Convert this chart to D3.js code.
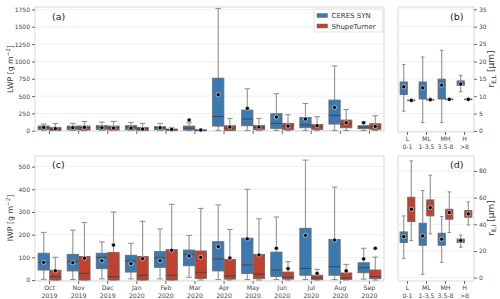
<!DOCTYPE html>
<html><head><meta charset="utf-8">
<script src="https://cdn.jsdelivr.net/npm/d3@7"></script>
<style>body{margin:0;background:#fff}svg{display:block;font-family:"DejaVu Sans",sans-serif}</style>
</head><body><svg id="c" width="500" height="299"></svg>
<script>
// ---------- data ----------
const monthNames = ["Oct","Nov","Dec","Jan","Feb","Mar","Apr","May","Jun","Jul","Aug","Sep"];
const monthYears = ["2019","2019","2019","2020","2020","2020","2020","2020","2020","2020","2020","2020"];
const heightCats = ["L","ML","MH","H"];
const heightRanges = ["0-1","1-3.5","3.5-8",">8"];
const seriesNames = ["CERES SYN","ShupeTurner"];
// each entry: [whiskerLow, q1, median, q3, whiskerHigh, mean]
const lwpCeres = [[5,19,43,67,96,48],[3,14,43,67,106,43],[3,19,53,72,125,43],[3,14,53,72,120,38],[3,14,43,58,106,43],[2,10,38,67,115,154],
  [5,67,206,758,1766,518],[5,72,168,298,605,322],[5,34,106,245,533,197],[5,43,82,192,394,168],[5,96,221,442,936,336],[3,29,53,72,125,115]];
const lwpShupe = [[2,5,24,48,106,29],[2,10,43,67,134,48],[2,10,43,67,134,38],[1,5,29,48,106,24],[1,5,14,24,48,19],[0,1,5,12,20,10],
  [2,5,38,72,178,53],[2,14,48,77,178,53],[2,14,67,106,230,67],[2,19,58,91,202,72],[3,43,96,154,307,115],[2,19,58,101,216,62]];
const iwpCeres = [[3,44,78,118,210,78],[2,40,82,113,220,76],[5,50,100,118,168,85],[5,35,84,109,162,72],[5,56,98,125,225,85],[12,63,113,132,196,106],
  [2,40,93,169,331,147],[2,29,66,184,400,181],[2,16,44,123,278,140],[2,21,51,228,529,197],[2,21,59,179,410,176],[4,32,54,76,140,93]];
const iwpShupe = [[0,0,15,43,100,40],[0,0,29,104,254,96],[0,0,15,121,300,154],[0,0,21,104,259,94],[0,0,21,134,334,131],[0,7,34,128,316,100],
  [0,4,18,91,223,97],[0,6,26,113,270,110],[0,4,12,35,81,50],[0,1.5,9,21,47,29],[0,3,9,31,69,40],[0,6,15,44,101,140]];
const reLCeres = [[5.7,10.5,12.7,14.1,19.1,12.7],[2.4,9.2,12.4,14.1,21.3,12.4],[2.4,9.2,13.2,14.9,23.2,13.2],[11.3,13.1,13.8,14.4,16.0,13.5]];
const reLShupe = [[8.6,8.7,8.8,8.9,9.0,8.8],[8.8,8.9,9.0,9.1,9.2,9.0],[8.9,9.0,9.1,9.2,9.3,9.1],[8.9,9.0,9.1,9.2,9.3,9.1]];
const reICeres = [[14.5,26.3,30.8,34.3,46.3,30.8],[2.5,24.3,30.3,40.8,65.3,31.3],[11.5,24.3,28.8,33.3,45.8,28.8],[22.8,26.3,27.8,29.0,32.0,27.8]];
const reIShupe = [[27.8,42.0,51.3,60.3,87.5,51.3],[32.8,46.3,52.0,58.3,76.8,52.5],[33.8,43.8,48.8,51.3,64.3,48.8],[39.5,45.3,47.8,50.3,56.8,47.8]];
const lwpTicks = [0,250,500,750,1000,1250,1500,1750];
const iwpTicks = [0,100,200,300,400,500];
const reLTicks = [0,5,10,15,20,25,30,35];
const reITicks = [0,20,40,60,80];

// ---------- style ----------
const colors = ["#3a7ab3","#c1402f"];
const svg = d3.select("#c");
const tickColor = "#444", gridColor = "#ececec", spineColor = "#d0d0d0";

function panel(o){
  const g = svg.append("g");
  const x = d3.scaleBand().domain(o.cats).range([o.x0,o.x1]);
  const y = d3.scaleLinear().domain(o.ydom).range([o.y1,o.y0]);
  g.selectAll(".grid").data(o.yticks).join("line")
    .attr("x1",o.x0).attr("x2",o.x1).attr("y1",d=>y(d)).attr("y2",d=>y(d))
    .attr("stroke",gridColor).attr("stroke-width",0.8);
  g.append("rect").attr("x",o.x0).attr("y",o.y0).attr("width",o.x1-o.x0).attr("height",o.y1-o.y0)
    .attr("fill","none").attr("stroke",spineColor).attr("stroke-width",0.8);
  const ax = (o.right ? d3.axisRight(y) : d3.axisLeft(y)).tickValues(o.yticks).tickFormat(d3.format("d")).tickSize(3).tickPadding(2);
  const ya = g.append("g").attr("transform",`translate(${o.right?o.x1:o.x0},0)`).call(ax);
  ya.select(".domain").remove();
  ya.selectAll("line").attr("stroke",tickColor).attr("stroke-width",0.8);
  ya.selectAll("text").attr("font-size",6).attr("fill",tickColor).attr("font-family","DejaVu Sans");
  g.selectAll(".xt").data(o.cats).join("line")
    .attr("x1",d=>x(d)+x.bandwidth()/2).attr("x2",d=>x(d)+x.bandwidth()/2)
    .attr("y1",o.y1).attr("y2",o.y1+3).attr("stroke",tickColor).attr("stroke-width",0.8);
  if(o.xlab1){
    const t = g.selectAll(".xl").data(o.cats).join("text")
      .attr("x",d=>x(d)+x.bandwidth()/2).attr("y",o.y1+9).attr("text-anchor","middle")
      .attr("font-size",6.2).attr("fill",tickColor);
    t.append("tspan").text((d,i)=>o.xlab1[i]);
    t.append("tspan").attr("x",d=>x(d)+x.bandwidth()/2).attr("dy",8).text((d,i)=>o.xlab2[i]);
  }
  const bw = x.bandwidth();
  const w = bw*0.4 - 0.4;
  o.series.forEach((ser,si)=>{
    const off = (si===0?-0.2:0.2)*bw;
    ser.forEach((s,i)=>{
      const cx = x(o.cats[i]) + bw/2 + off;
      const [wl,q1,md,q3,wh,mn] = s;
      const gg = g.append("g");
      gg.append("line").attr("x1",cx).attr("x2",cx).attr("y1",y(q3)).attr("y2",y(wh)).attr("stroke","#9a9a9a").attr("stroke-width",1.2);
      gg.append("line").attr("x1",cx).attr("x2",cx).attr("y1",y(q1)).attr("y2",y(wl)).attr("stroke","#9a9a9a").attr("stroke-width",1.2);
      [wl,wh].forEach(v=>gg.append("line").attr("x1",cx-w/4).attr("x2",cx+w/4).attr("y1",y(v)).attr("y2",y(v)).attr("stroke","#8a8a8a").attr("stroke-width",1));
      gg.append("rect").attr("x",cx-w/2).attr("y",y(q3)).attr("width",w).attr("height",Math.max(0.5,y(q1)-y(q3)))
        .attr("fill",colors[si]).attr("stroke","#6a6a6a").attr("stroke-width",0.9);
      gg.append("line").attr("x1",cx-w/2).attr("x2",cx+w/2).attr("y1",y(md)).attr("y2",y(md)).attr("stroke","#454545").attr("stroke-width",1);
      gg.append("circle").attr("cx",cx).attr("cy",y(mn)).attr("r",2.1).attr("fill","#000").attr("stroke","#fff").attr("stroke-width",0.6);
    });
  });
  g.append("text").attr("x",o.lx).attr("y",o.ly).attr("font-size",9.5).attr("fill","#222").text(o.label);
  return {x,y,g};
}

panel({x0:35,x1:384,y0:7,y1:131,ydom:[-4,1786],yticks:lwpTicks,cats:monthNames,series:[lwpCeres,lwpShupe],label:"(a)",lx:52,ly:20});
panel({x0:35,x1:384,y0:156,y1:281,ydom:[-4.4,547],yticks:iwpTicks,cats:monthNames,series:[iwpCeres,iwpShupe],label:"(c)",lx:52,ly:168,xlab1:monthNames,xlab2:monthYears});
panel({x0:398,x1:474,y0:7,y1:132,ydom:[-0.29,35.66],yticks:reLTicks,cats:heightCats,series:[reLCeres,reLShupe],label:"(b)",lx:450,ly:20,right:true,xlab1:heightCats,xlab2:heightRanges});
panel({x0:398,x1:474,y0:156,y1:281,ydom:[-2.5,91.2],yticks:reITicks,cats:heightCats,series:[reICeres,reIShupe],label:"(d)",lx:450,ly:168,right:true,xlab1:heightCats,xlab2:heightRanges});

function ylab(x,y,rot,fs,parts){
  const t = svg.append("text").attr("transform",`translate(${x},${y}) rotate(${rot})`).attr("text-anchor","middle")
    .attr("font-size",fs).attr("fill","#333");
  parts.forEach(p=>{const s=t.append("tspan").text(p.t); if(p.dy) s.attr("dy",p.dy); if(p.fs) s.attr("font-size",p.fs);});
}
ylab(13,69,-90,7.8,[{t:"LWP [g m"},{t:"−2",dy:-3,fs:5.5},{t:"]",dy:3}]);
ylab(13,218,-90,7.8,[{t:"IWP [g m"},{t:"−2",dy:-3,fs:5.5},{t:"]",dy:3}]);
ylab(494,69,-90,9,[{t:"r"},{t:"E,L",dy:2.2,fs:6},{t:" [μm]",dy:-2.2}]);
ylab(494,218,-90,9,[{t:"r"},{t:"E,I",dy:2.2,fs:6},{t:" [μm]",dy:-2.2}]);

const lg = svg.append("g");
lg.append("rect").attr("x",314).attr("y",9).attr("width",69).attr("height",23).attr("rx",1.5)
  .attr("fill","#fff").attr("fill-opacity",0.85).attr("stroke","#d8d8d8").attr("stroke-width",0.8);
seriesNames.forEach((n,i)=>{
  lg.append("rect").attr("x",317).attr("y",13.5+i*10.5).attr("width",10.5).attr("height",4)
    .attr("fill",colors[i]).attr("stroke","#6a6a6a").attr("stroke-width",0.5);
  lg.append("text").attr("x",331.5).attr("y",18+i*10.5).attr("font-size",7).attr("fill","#333").text(n);
});
</script></body></html>
